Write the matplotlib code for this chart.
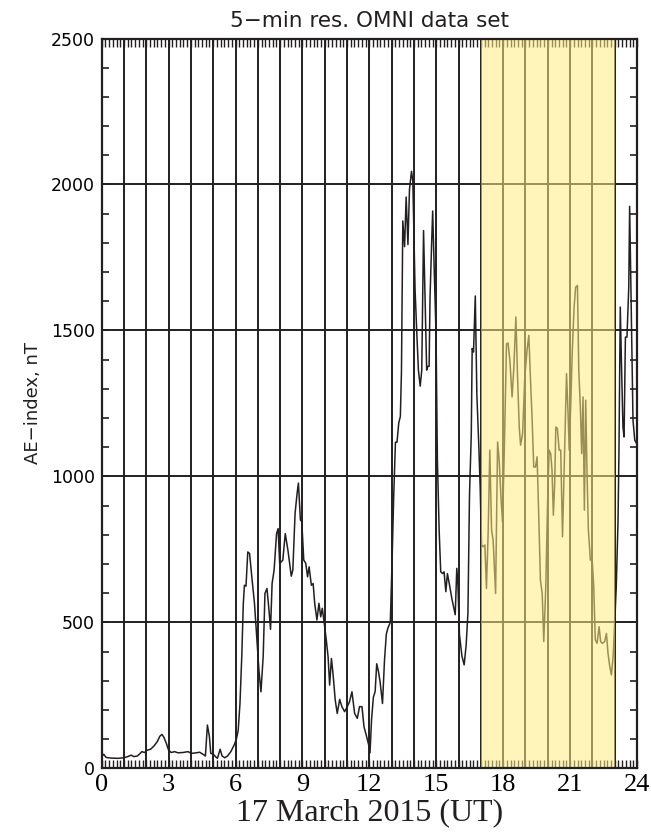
import matplotlib
matplotlib.use("Agg")
import matplotlib.pyplot as plt
from matplotlib.ticker import MultipleLocator, FuncFormatter
from matplotlib.patches import Rectangle

# ---- data ----
hours = [0.0, 0.09, 0.2, 0.42, 0.72, 1.0, 1.17, 1.32, 1.44, 1.6, 1.7, 1.8, 1.92, 2.04, 2.19,
         2.34, 2.49, 2.61, 2.7, 2.79, 2.9, 3.0, 3.12, 3.27, 3.42, 3.64, 3.87, 4.02, 4.24, 4.39,
         4.54, 4.65, 4.74, 4.83, 4.89, 5.0, 5.1, 5.19, 5.31, 5.4, 5.52, 5.64, 5.79, 5.94, 6.04,
         6.12, 6.2, 6.28, 6.35, 6.4, 6.47, 6.55, 6.63, 6.73, 6.85, 6.95, 7.05, 7.14, 7.24, 7.32,
         7.41, 7.5, 7.57, 7.64, 7.73, 7.84, 7.91, 7.98, 8.05, 8.12, 8.23, 8.35, 8.5, 8.57, 8.67,
         8.76, 8.82, 8.91, 8.97, 9.06, 9.15, 9.23, 9.3, 9.4, 9.48, 9.55, 9.65, 9.74, 9.82, 9.89,
         9.97, 10.07, 10.15, 10.22, 10.3, 10.37, 10.47, 10.56, 10.67, 10.77, 10.89, 11.01, 11.11,
         11.22, 11.34, 11.46, 11.56, 11.67, 11.76, 11.86, 11.97, 12.03, 12.1, 12.18, 12.26, 12.33,
         12.41, 12.48, 12.59, 12.68, 12.76, 12.83, 12.94, 13.02, 13.09, 13.17, 13.24, 13.32,
         13.39, 13.44, 13.5, 13.58, 13.65, 13.73, 13.8, 13.89, 13.95, 14.05, 14.13, 14.2, 14.28,
         14.35, 14.43, 14.5, 14.57, 14.62, 14.68, 14.72, 14.8, 14.84, 14.9, 14.99, 15.05, 15.13,
         15.2, 15.29, 15.35, 15.43, 15.5, 15.59, 15.7, 15.85, 15.92, 15.97, 16.04, 16.15, 16.25,
         16.34, 16.42, 16.49, 16.57, 16.61, 16.67, 16.75, 16.82, 16.91, 16.97, 17.03, 17.1, 17.18,
         17.25, 17.33, 17.4, 17.48, 17.55, 17.66, 17.75, 17.82, 17.9, 17.97, 18.04, 18.15, 18.22,
         18.3, 18.4, 18.48, 18.57, 18.64, 18.72, 18.78, 18.87, 18.97, 19.07, 19.15, 19.22, 19.3,
         19.37, 19.45, 19.52, 19.6, 19.67, 19.75, 19.82, 19.91, 19.99, 20.06, 20.13, 20.19, 20.25,
         20.31, 20.36, 20.43, 20.51, 20.58, 20.66, 20.73, 20.84, 20.91, 20.96, 21.03, 21.1, 21.18,
         21.25, 21.33, 21.39, 21.46, 21.52, 21.58, 21.64, 21.7, 21.76, 21.82, 21.91, 21.99, 22.06,
         22.13, 22.21, 22.3, 22.37, 22.45, 22.55, 22.63, 22.7, 22.78, 22.85, 22.93, 23.0, 23.07,
         23.15, 23.19, 23.25, 23.3, 23.37, 23.42, 23.48, 23.55, 23.63, 23.67, 23.75, 23.82, 23.9,
         24.0]
ae_index = [40, 48, 37, 35, 34, 36, 40, 45, 40, 42, 49, 57, 54, 62, 65,
            76, 91, 110, 116, 106, 85, 62, 54, 57, 53, 54, 57, 51, 53, 55,
            48, 42, 148, 108, 51, 49, 40, 34, 65, 42, 36, 42, 57, 80, 100,
            130, 222, 382, 565, 627, 624, 741, 736, 656, 565, 451, 336, 262, 382, 599,
            616, 542, 476, 633, 679, 804, 821, 702, 707, 713, 804, 747, 658, 679, 873,
            941, 977, 850, 846, 713, 702, 656, 690, 627, 633, 565, 508, 565, 519, 548,
            502, 439, 382, 285, 376, 325, 234, 188, 236, 211, 194, 211, 228,
            262, 188, 171, 211, 211, 142, 114, 80, 53, 168, 243, 263, 358,
            331, 297, 222, 371, 459, 480, 500, 711, 927, 1117, 1117, 1184,
            1205, 1360, 1875, 1787, 1957, 1794, 1984, 2045, 2011, 1640, 1487, 1364, 1309,
            1364, 1842, 1609, 1364, 1377, 1377, 1609, 1818, 1909, 1732, 1487, 1058, 813,
            673, 667, 673, 605, 667, 630, 581, 526, 685, 630, 458, 385, 354,
            422, 532, 936, 1144, 1438, 1426, 1618, 1280, 1100, 960, 765, 759, 765,
            616, 816, 1090, 816, 782, 599, 1118, 1055, 930, 844, 1055, 1454, 1457,
            1397, 1272, 1375, 1546, 1352, 1169, 1107, 1146, 1340, 1432, 1483, 1340, 1192,
            1032, 1032, 1067, 850, 645, 599, 434, 622, 907, 1090, 1078, 1021, 867,
            975, 1169, 1164, 1090, 1090, 793, 1010, 1352, 1215, 1090, 1249, 1432, 1580,
            1648, 1654, 1363, 1238, 1078, 1272, 884, 1261, 1010, 816, 713, 713, 622,
            440, 428, 485, 434, 428, 434, 462, 394, 348, 320, 383, 497, 622,
            850, 1078, 1580, 1397, 1169, 1135, 1477, 1477, 1648, 1925, 1534, 1192, 1124,
            1110]
highlight = [17, 23]
x_tick_labels = ["0", "3", "6", "9", "12", "15", "18", "21", "24"]
title = "5\u2212min res. OMNI data set"
ylabel = "AE\u2212index, nT"
xlabel = "17 March 2015 (UT)"

ink = "#231f20"
fig = plt.figure(figsize=(6.51, 8.39), dpi=100)
ax = fig.add_axes([0.1562, 0.0843, 0.8223, 0.8698])

ax.plot(hours, ae_index, color=ink, lw=1.1, zorder=3)

ax.set_xlim(0, 24)
ax.set_ylim(0, 2500)

# grid: every hour vertically, every 500 nT horizontally
ax.xaxis.set_major_locator(MultipleLocator(1))
ax.xaxis.set_minor_locator(MultipleLocator(1 / 6))
ax.xaxis.set_major_formatter(FuncFormatter(
    lambda v, p: x_tick_labels[int(round(v)) // 3] if int(round(v)) % 3 == 0 else ""))
ax.yaxis.set_major_locator(MultipleLocator(500))
ax.yaxis.set_minor_locator(MultipleLocator(100))
ax.grid(True, which="major", color=ink, lw=1.4)

ax.tick_params(axis="x", which="both", direction="in", top=True, bottom=True,
               length=6, width=1.0, color=ink)
ax.tick_params(axis="x", which="major", pad=4, labelsize=19)
ax.tick_params(axis="y", which="both", direction="in", left=True, right=True,
               length=5, width=1.2, color=ink, labelsize=12.5, pad=5)
for lab in ax.get_xticklabels():
    lab.set_family("Liberation Serif")
for lab in ax.get_yticklabels():
    lab.set_family("DejaVu Sans")

for s in ax.spines.values():
    s.set_linewidth(1.6)
    s.set_color(ink)
    s.set_zorder(10)

# yellow highlighted interval drawn over everything (semi-transparent)
ax.add_patch(Rectangle((highlight[0], 0), highlight[1] - highlight[0], 2500,
                       facecolor="#ffeb80", alpha=0.55, edgecolor="none", zorder=6))

ax.set_title(title, fontsize=15.5, family="DejaVu Sans", pad=8, color=ink)
ax.set_xlabel(xlabel, fontsize=23, family="Liberation Serif", labelpad=2, color=ink)
ax.set_ylabel(ylabel, fontsize=13, family="DejaVu Sans", color=ink)
ax.yaxis.set_label_coords(-0.112, 0.5)

fig.savefig("out.png", dpi=100)
